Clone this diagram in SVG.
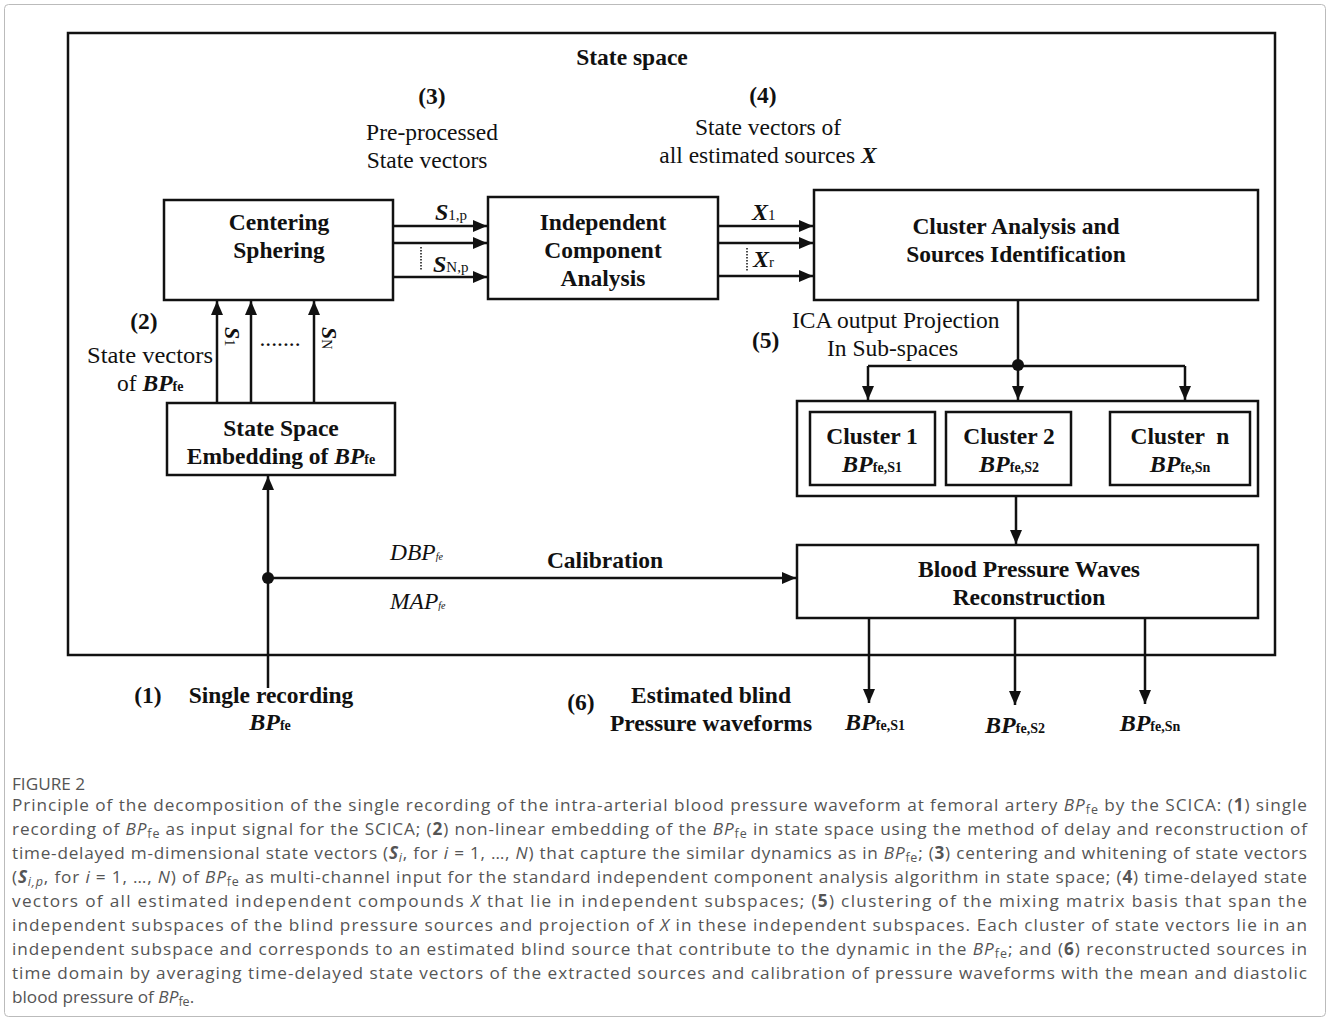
<svg xmlns="http://www.w3.org/2000/svg" width="1330" height="1021" viewBox="0 0 1330 1021">
<defs>
<style>
.box{fill:#fff;stroke:#111;stroke-width:2.5}
.ln{fill:none;stroke:#111;stroke-width:2.5}
.arr{fill:none;stroke:#111;stroke-width:2.5;marker-end:url(#ah)}
.dot{fill:none;stroke:#111;stroke-width:1.5;stroke-dasharray:1.5 1.5}
.t{font-family:"Liberation Serif",serif;fill:#111;font-size:23.5px}
.b{font-weight:bold}
.c{text-anchor:middle}
.sub{font-size:14px}
.cap{font-family:"Open Sans","Liberation Sans",sans-serif;font-size:17.2px;fill:#555}
</style>
<marker id="ah" viewBox="0 0 14 12" refX="14" refY="6" markerWidth="14" markerHeight="12" orient="auto" markerUnits="userSpaceOnUse"><path d="M0,0 L14,6 L0,12 z" fill="#111"/></marker>
</defs>
<rect x="4.5" y="4.5" width="1321" height="1012" rx="4" fill="#fff" stroke="#bbb" stroke-width="1"/>

<g id="state-space">
<rect x="68" y="33" width="1207" height="622" fill="none" stroke="#111" stroke-width="2.5"/>
<text class="t b c" x="632" y="65" font-size="27">State space</text>
<text class="t b c" x="432" y="104">(3)</text>
<text class="t c" x="432" y="140">Pre-processed</text>
<text class="t c" x="427" y="168">State vectors</text>
<text class="t b c" x="763" y="103">(4)</text>
<text class="t c" x="768" y="135">State vectors of</text>
<text class="t c" x="768" y="163">all estimated sources <tspan font-weight="bold" font-style="italic">X</tspan></text>
</g>

<g id="connectors">
<line class="arr" x1="393" y1="226" x2="487" y2="226"/>
<line class="arr" x1="393" y1="243" x2="487" y2="243"/>
<line class="arr" x1="393" y1="277" x2="487" y2="277"/>
<line class="dot" x1="421" y1="247" x2="421" y2="271"/>
<line class="arr" x1="718" y1="226" x2="813" y2="226"/>
<line class="arr" x1="718" y1="243" x2="813" y2="243"/>
<line class="arr" x1="718" y1="276" x2="813" y2="276"/>
<line class="dot" x1="747" y1="248" x2="747" y2="272"/>
<line class="arr" x1="217" y1="403" x2="217" y2="301"/>
<line class="arr" x1="251" y1="403" x2="251" y2="301"/>
<line class="arr" x1="314" y1="403" x2="314" y2="301"/>
<line class="arr" x1="268" y1="688" x2="268" y2="476"/>
<line class="arr" x1="268" y1="578" x2="796" y2="578"/>
<circle cx="268" cy="578" r="6" fill="#111"/>
<line class="ln" x1="1018" y1="300" x2="1018" y2="366"/>
<line class="ln" x1="868" y1="366" x2="1185" y2="366"/>
<line class="arr" x1="868" y1="366" x2="868" y2="400"/>
<line class="arr" x1="1018" y1="366" x2="1018" y2="400"/>
<line class="arr" x1="1185" y1="366" x2="1185" y2="400"/>
<circle cx="1018" cy="365" r="6" fill="#111"/>
<line class="arr" x1="1016" y1="496" x2="1016" y2="544"/>
<line class="arr" x1="869" y1="618" x2="869" y2="703"/>
<line class="arr" x1="1015" y1="618" x2="1015" y2="705"/>
<line class="arr" x1="1145" y1="618" x2="1145" y2="704"/>
<line x1="1071" y1="448" x2="1110" y2="448" stroke="#666" stroke-width="1" stroke-dasharray="1.5 1"/>
<text class="t" x="435" y="220"><tspan font-weight="bold" font-style="italic" font-size="24">S</tspan><tspan font-size="15">1,p</tspan></text>
<text class="t" x="433" y="272"><tspan font-weight="bold" font-style="italic" font-size="24">S</tspan><tspan font-size="15">N,p</tspan></text>
<text class="t" x="752" y="220"><tspan font-weight="bold" font-style="italic" font-size="24">X</tspan><tspan font-size="15">1</tspan></text>
<text class="t" x="753" y="267"><tspan font-weight="bold" font-style="italic" font-size="24">X</tspan><tspan font-size="15">r</tspan></text>
<text class="t" transform="translate(225,327) rotate(90)"><tspan font-weight="bold" font-style="italic" font-size="22">S</tspan><tspan font-size="14">1</tspan></text>
<text class="t" transform="translate(322,327) rotate(90)"><tspan font-weight="bold" font-style="italic" font-size="22">S</tspan><tspan font-size="14">N</tspan></text>
<text class="t c" x="280" y="346" font-size="13">.......</text>
<text class="t" x="390" y="560" font-size="15" font-style="italic">DBP<tspan font-size="10">fe</tspan></text>
<text class="t" x="390" y="609" font-size="15" font-style="italic">MAP<tspan font-size="10">fe</tspan></text>
<text class="t b c" x="605" y="568">Calibration</text>
</g>

<g id="centering">
<rect class="box" x="164" y="200" width="229" height="100"/>
<text class="t b c" x="279" y="230">Centering</text>
<text class="t b c" x="279" y="258">Sphering</text>
</g>

<g id="ica">
<rect class="box" x="488" y="197" width="230" height="102"/>
<text class="t b c" x="603" y="230">Independent</text>
<text class="t b c" x="603" y="258">Component</text>
<text class="t b c" x="603" y="286">Analysis</text>
</g>

<g id="cluster-analysis">
<rect class="box" x="814" y="190" width="444" height="110"/>
<text class="t b c" x="1016" y="234">Cluster Analysis and</text>
<text class="t b c" x="1016" y="262">Sources Identification</text>
</g>

<g id="label-5">
<text class="t b" x="752" y="348">(5)</text>
<text class="t" x="792" y="328">ICA output Projection</text>
<text class="t" x="827" y="356">In Sub-spaces</text>
</g>

<g id="clusters">
<rect class="box" x="797" y="401" width="461" height="95"/>
<rect class="box" x="810" y="412" width="125" height="73"/>
<rect class="box" x="946" y="412" width="125" height="73"/>
<rect class="box" x="1110" y="412" width="140" height="73"/>
<text class="t b c" x="872" y="444">Cluster 1</text>
<text class="t b c" x="872" y="472"><tspan font-style="italic" font-size="24">BP</tspan><tspan class="sub">fe,S1</tspan></text>
<text class="t b c" x="1009" y="444">Cluster 2</text>
<text class="t b c" x="1009" y="472"><tspan font-style="italic" font-size="24">BP</tspan><tspan class="sub">fe,S2</tspan></text>
<text class="t b c" x="1180" y="444" xml:space="preserve">Cluster  n</text>
<text class="t b c" x="1180" y="472"><tspan font-style="italic" font-size="24">BP</tspan><tspan class="sub">fe,Sn</tspan></text>
</g>

<g id="reconstruction">
<rect class="box" x="797" y="545" width="461" height="73"/>
<text class="t b c" x="1029" y="577">Blood Pressure Waves</text>
<text class="t b c" x="1029" y="605">Reconstruction</text>
</g>

<g id="embedding">
<rect class="box" x="167" y="403" width="228" height="72"/>
<text class="t b c" x="281" y="436">State Space</text>
<text class="t b c" x="281" y="464">Embedding of <tspan font-style="italic">BP</tspan><tspan class="sub">fe</tspan></text>
</g>

<g id="label-2">
<text class="t b c" x="144" y="329">(2)</text>
<text class="t" x="87" y="363" textLength="126" lengthAdjust="spacingAndGlyphs">State  vectors</text>
<text class="t" x="117" y="391">of <tspan font-weight="bold" font-style="italic">BP</tspan><tspan class="sub" font-weight="bold">fe</tspan></text>
</g>

<g id="input">
<text class="t b c" x="148" y="703">(1)</text>
<text class="t b c" x="271" y="703">Single recording</text>
<text class="t b c" x="270" y="730"><tspan font-style="italic" font-size="24">BP</tspan><tspan class="sub">fe</tspan></text>
</g>

<g id="outputs">
<text class="t b c" x="581" y="710">(6)</text>
<text class="t b c" x="711" y="703">Estimated blind</text>
<text class="t b c" x="711" y="731">Pressure waveforms</text>
<text class="t b c" x="875" y="730"><tspan font-style="italic" font-size="24">BP</tspan><tspan class="sub">fe,S1</tspan></text>
<text class="t b c" x="1015" y="733"><tspan font-style="italic" font-size="24">BP</tspan><tspan class="sub">fe,S2</tspan></text>
<text class="t b c" x="1150" y="731"><tspan font-style="italic" font-size="24">BP</tspan><tspan class="sub">fe,Sn</tspan></text>
</g>

<g id="caption">
<text class="cap" x="12" y="790" font-size="14" fill="#666">FIGURE 2</text>
<text class="cap" x="12" y="811" textLength="1295" lengthAdjust="spacing">Principle of the decomposition of the single recording of the intra-arterial blood pressure waveform at femoral artery <tspan font-style="italic">BP</tspan><tspan font-size="12.5" dy="3">fe</tspan><tspan dy="-3"> by the SCICA: (</tspan><tspan font-weight="bold">1</tspan>) single</text>
<text class="cap" x="12" y="835" textLength="1295" lengthAdjust="spacing">recording of <tspan font-style="italic">BP</tspan><tspan font-size="12.5" dy="3">fe</tspan><tspan dy="-3"> as input signal for the SCICA; (</tspan><tspan font-weight="bold">2</tspan>) non-linear embedding of the <tspan font-style="italic">BP</tspan><tspan font-size="12.5" dy="3">fe</tspan><tspan dy="-3"> in state space using the method of delay and reconstruction of</tspan></text>
<text class="cap" x="12" y="859" textLength="1295" lengthAdjust="spacing">time-delayed m-dimensional state vectors (<tspan font-weight="bold" font-style="italic">S</tspan><tspan font-size="12.5" dy="3" font-style="italic">i</tspan><tspan dy="-3">, for </tspan><tspan font-style="italic">i</tspan> = 1, …, <tspan font-style="italic">N</tspan>) that capture the similar dynamics as in <tspan font-style="italic">BP</tspan><tspan font-size="12.5" dy="3">fe</tspan><tspan dy="-3">; (</tspan><tspan font-weight="bold">3</tspan>) centering and whitening of state vectors</text>
<text class="cap" x="12" y="883" textLength="1295" lengthAdjust="spacing">(<tspan font-weight="bold" font-style="italic">S</tspan><tspan font-size="12.5" dy="3" font-style="italic">i,p</tspan><tspan dy="-3">, for </tspan><tspan font-style="italic">i</tspan> = 1, …, <tspan font-style="italic">N</tspan>) of <tspan font-style="italic">BP</tspan><tspan font-size="12.5" dy="3">fe</tspan><tspan dy="-3"> as multi-channel input for the standard independent component analysis algorithm in state space; (</tspan><tspan font-weight="bold">4</tspan>) time-delayed state</text>
<text class="cap" x="12" y="907" textLength="1295" lengthAdjust="spacing">vectors of all estimated independent compounds <tspan font-style="italic">X</tspan> that lie in independent subspaces; (<tspan font-weight="bold">5</tspan>) clustering of the mixing matrix basis that span the</text>
<text class="cap" x="12" y="931" textLength="1295" lengthAdjust="spacing">independent subspaces of the blind pressure sources and projection of <tspan font-style="italic">X</tspan> in these independent subspaces. Each cluster of state vectors lie in an</text>
<text class="cap" x="12" y="955" textLength="1295" lengthAdjust="spacing">independent subspace and corresponds to an estimated blind source that contribute to the dynamic in the <tspan font-style="italic">BP</tspan><tspan font-size="12.5" dy="3">fe</tspan><tspan dy="-3">; and (</tspan><tspan font-weight="bold">6</tspan>) reconstructed sources in</text>
<text class="cap" x="12" y="979" textLength="1295" lengthAdjust="spacing">time domain by averaging time-delayed state vectors of the extracted sources and calibration of pressure waveforms with the mean and diastolic</text>
<text class="cap" x="12" y="1003">blood pressure of <tspan font-style="italic">BP</tspan><tspan font-size="12.5" dy="3">fe</tspan><tspan dy="-3">.</tspan></text>
</g>
</svg>
